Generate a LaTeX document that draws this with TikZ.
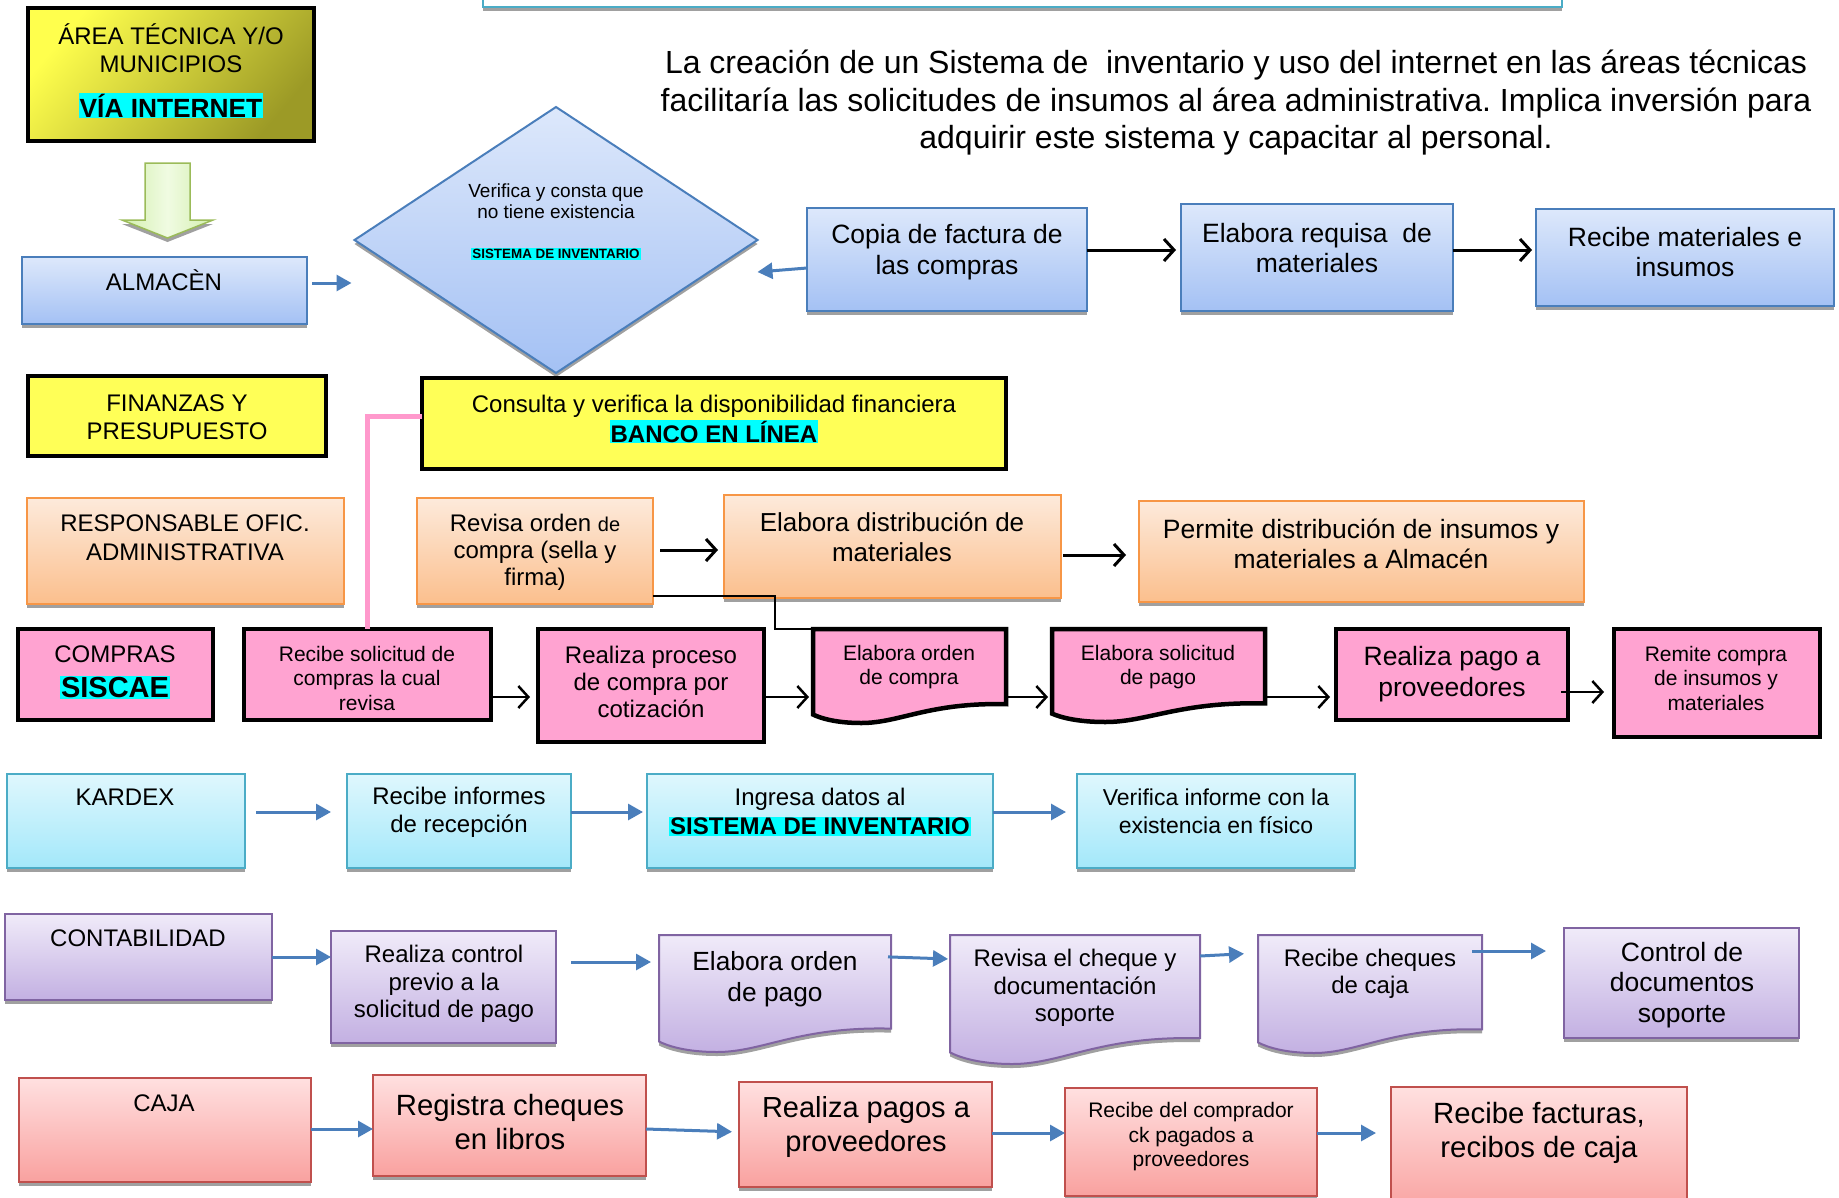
\documentclass[tikz,border=0pt]{standalone}
\usepackage{fontspec}
\setmainfont{Liberation Sans}
\usetikzlibrary{arrows.meta,shapes.geometric,shadows}
\frenchspacing

\definecolor{bluetop}{HTML}{DDE8FB}
\definecolor{bluebot}{HTML}{A4C1F4}
\definecolor{bluebd}{HTML}{4A7EBB}
\definecolor{orgtop}{HTML}{FDEADB}
\definecolor{orgbot}{HTML}{FBBF8D}
\definecolor{orgbd}{HTML}{F79646}
\definecolor{cyntop}{HTML}{DFF7FD}
\definecolor{cynbot}{HTML}{A3E8FA}
\definecolor{cynbd}{HTML}{4BACC6}
\definecolor{purtop}{HTML}{F0EBF9}
\definecolor{purbot}{HTML}{C3B0E2}
\definecolor{purbd}{HTML}{8064A2}
\definecolor{redtop}{HTML}{FFE0E0}
\definecolor{redbot}{HTML}{F9A19F}
\definecolor{redbd}{HTML}{C0504D}
\definecolor{pinkfill}{HTML}{FFA3D1}
\definecolor{pinkline}{HTML}{FF99CC}
\definecolor{yelfill}{HTML}{FFFF57}
\definecolor{atyel}{HTML}{FFFF4D}
\definecolor{atolive}{HTML}{9C9A26}
\definecolor{hicyan}{HTML}{00FFFF}
\definecolor{arrblue}{HTML}{4A7EBB}
\definecolor{grnside}{HTML}{D3EFAE}
\definecolor{grnmid}{HTML}{F0FBE2}
\definecolor{grnbd}{HTML}{9BBB59}
\definecolor{shadowgray}{HTML}{A0A0A0}

\newcommand{\cyanmark}[1]{{\setlength{\fboxsep}{1pt}\colorbox{hicyan}{#1}}}

\tikzset{
  box/.style={rectangle, inner sep=0pt, outer sep=0pt},
  shadowed/.style={drop shadow={shadow xshift=0pt, shadow yshift=-4pt, fill=shadowgray, opacity=1}},
  bluebox/.style={box, shadowed, draw=bluebd, line width=2pt, top color=bluetop, bottom color=bluebot},
  orangebox/.style={box, shadowed, draw=orgbd, line width=2pt, top color=orgtop, bottom color=orgbot},
  cyanbox/.style={box, shadowed, draw=cynbd, line width=2pt, top color=cyntop, bottom color=cynbot},
  purplebox/.style={box, shadowed, draw=purbd, line width=2pt, top color=purtop, bottom color=purbot},
  redbox/.style={box, shadowed, draw=redbd, line width=2pt, top color=redtop, bottom color=redbot},
  blackbox/.style={box, draw=black, line width=4.5pt},
  pinkbox/.style={blackbox, fill=pinkfill},
  yellowbox/.style={blackbox, fill=yelfill},
  pinkdoc/.style={draw=black, line width=4.5pt, fill=pinkfill},
  purpledoc/.style={shadowed, draw=purbd, line width=2pt, top color=purtop, bottom color=purbot},
  tx/.style={align=center, inner sep=0pt},
  txtS/.style={tx, font=\fontsize{21}{24.5}\selectfont},
  txtM/.style={tx, font=\fontsize{24}{27.5}\selectfont},
  txtL/.style={tx, font=\fontsize{26.5}{30.5}\selectfont},
  txtXL/.style={tx, font=\fontsize{29.3}{33.5}\selectfont},
  bluearr/.style={draw=arrblue, line width=3pt, -{Triangle[length=15pt,width=16pt]}},
  blackarr/.style={draw=black, line width=3pt, -{Straight Barb[length=10pt,width=22pt]}},
  pinkarr/.style={draw=black, line width=2.5pt, -{Straight Barb[length=10pt,width=22pt]}},
  pinkconn/.style={draw=pinkline, line width=5pt},
  thinconn/.style={draw=black, line width=2pt},
}

\begin{document}
\begin{tikzpicture}[x=1pt, y=-1pt]
\useasboundingbox (0,0) rectangle (1839,1197);
\clip (0,0) rectangle (1839,1197);

% banner at the top edge
\draw[draw=cynbd, line width=2pt, fill=white, shadowed] (483,-20) rectangle (1562,7);

%AREA TECNICA
\node[blackbox, shading=axis, top color=atyel, bottom color=atolive, shading angle=50, minimum width=286, minimum height=133] (area) at (171,74.5) {};
\draw[draw=grnbd, line width=1.5pt, left color=grnside, right color=grnside, middle color=grnmid, shadowed] (145,163) -- (190,163) -- (190,220) -- (213,220) -- (167.5,238) -- (122,220) -- (145,220) -- cycle;

%ALMACEN
\node[bluebox, minimum width=285, minimum height=67] (alm) at (164.5,290.5) {};
\node[bluebox, diamond, minimum width=403, minimum height=266] (dia) at (556,240) {};
\node[bluebox, minimum width=280, minimum height=103] (copia) at (947,259.5) {};
\node[bluebox, minimum width=272, minimum height=107] (req) at (1317,257.5) {};
\node[bluebox, minimum width=298, minimum height=97] (recmat) at (1685,257.5) {};

%FINANZAS
\node[yellowbox, minimum width=298, minimum height=80] (fin) at (177,416) {};
\node[yellowbox, minimum width=584, minimum height=91] (banco) at (714,423.5) {};

%RESPONSABLE
\node[orangebox, minimum width=317, minimum height=106] (resp) at (185.5,551) {};
\node[orangebox, minimum width=236, minimum height=106] (revord) at (535,551) {};
\node[orangebox, minimum width=337, minimum height=103] (distr) at (892.5,546.5) {};
\node[orangebox, minimum width=445, minimum height=101] (permite) at (1361.5,551.5) {};

%COMPRAS
\node[pinkbox, minimum width=195, minimum height=91] (compras) at (115.5,674.5) {};
\node[pinkbox, minimum width=247, minimum height=91] (recsol) at (367.5,674.5) {};
\node[pinkbox, minimum width=226, minimum height=113] (cotiz) at (651,685.5) {};
\draw[pinkdoc] (813,629) -- (1006,629) -- (1006,704.2) .. controls (928.8,702.3) and (899.9,723) .. (861.3,723) .. controls (836.2,723) and (820.7,718.3) .. (813,714.5) -- cycle;
\node[box, minimum width=193, minimum height=75] (ordcomp) at (909.5,666.5) {};
\draw[pinkdoc] (1052,629) -- (1265,629) -- (1265,703.4) .. controls (1179.8,701.5) and (1147.9,722) .. (1105.3,722) .. controls (1077.6,722) and (1060.5,717.4) .. (1052,713.6) -- cycle;
\node[box, minimum width=213, minimum height=74] (solpago) at (1158.5,666) {};
\node[pinkbox, minimum width=232, minimum height=91] (pagoprov) at (1452,674.5) {};
\node[pinkbox, minimum width=206, minimum height=108] (remite) at (1717,683) {};

%KARDEX
\node[cyanbox, minimum width=238, minimum height=94] (kardex) at (126,821) {};
\node[cyanbox, minimum width=224, minimum height=94] (recinf) at (459,821) {};
\node[cyanbox, minimum width=346, minimum height=94] (ingresa) at (820,821) {};
\node[cyanbox, minimum width=278, minimum height=94] (verif) at (1216,821) {};

%CONTABILIDAD
\node[purplebox, minimum width=267, minimum height=86] (conta) at (138.5,957) {};
\node[purplebox, minimum width=225, minimum height=112] (control) at (443.5,987) {};
\draw[purpledoc] (659,935) -- (891,935) -- (891,1028.6) .. controls (798.2,1026.3) and (763.4,1052) .. (717,1052) .. controls (686.8,1052) and (668.3,1046.2) .. (659,1041.5) -- cycle;
\node[box, minimum width=232, minimum height=94] (ordpago) at (775,982) {};
\draw[purpledoc] (950,935) -- (1200,935) -- (1200,1038.2) .. controls (1100,1035.6) and (1062.5,1064) .. (1012.5,1064) .. controls (980,1064) and (960,1057.6) .. (950,1052.4) -- cycle;
\node[box, minimum width=250, minimum height=103] (revcheq) at (1075,986.5) {};
\draw[purpledoc] (1258,935) -- (1482,935) -- (1482,1029.4) .. controls (1392.4,1027) and (1358.8,1053) .. (1314,1053) .. controls (1284.9,1053) and (1267,1047.1) .. (1258,1042.4) -- cycle;
\node[box, minimum width=224, minimum height=94] (reccheq) at (1370,982) {};
\node[purplebox, minimum width=235, minimum height=110] (ctrldoc) at (1681.5,983) {};

%CAJA
\node[redbox, minimum width=292, minimum height=104] (caja) at (165,1130) {};
\node[redbox, minimum width=273, minimum height=101] (regch) at (509.5,1125.5) {};
\node[redbox, minimum width=253, minimum height=105] (pagos) at (865.5,1134.5) {};
\node[redbox, minimum width=252, minimum height=108] (recomp) at (1191,1142) {};
\node[redbox, minimum width=296, minimum height=128] (recfact) at (1539,1151) {};

%CONNECTORS
\draw[bluearr, shorten <=5pt, shorten >=3pt] (alm.east |- 0,283) -- (dia.west |- 0,283);
\draw[bluearr] (copia.west |- 0,268) -- (dia.east |- 0,272);
\draw[blackarr, shorten >=5pt] (copia.east |- 0,250) -- (req.west |- 0,250);
\draw[blackarr, shorten >=4pt] (req.east |- 0,250) -- (recmat.west |- 0,250);

\draw[pinkconn] ([yshift=7.5pt]banco.west) -| (recsol.north);
\draw[blackarr, shorten <=7pt, shorten >=6pt] (revord.east |- 0,550) -- (distr.west |- 0,550);
\draw[blackarr, shorten <=2pt, shorten >=13pt] (distr.east |- 0,555) -- (permite.west |- 0,555);
\draw[thinconn] ([yshift=8pt]revord.south east) -- ++(122,0) |- (ordcomp.north west);

\draw[pinkarr, shorten >=8pt] (recsol.east |- 0,697) -- (cotiz.west |- 0,697);
\draw[pinkarr, shorten >=4pt] (cotiz.east |- 0,697) -- (ordcomp.west |- 0,697);
\draw[pinkarr, shorten >=4pt] (ordcomp.east |- 0,697) -- (solpago.west |- 0,697);
\draw[pinkarr, shorten >=6pt] (solpago.east |- 0,697) -- (pagoprov.west |- 0,697);
\draw[pinkarr, shorten <=-7pt, shorten >=10pt] (pagoprov.east |- 0,692) -- (remite.west |- 0,692);

\draw[bluearr, shorten <=11pt, shorten >=16pt] (kardex.east |- 0,812) -- (recinf.west |- 0,812);
\draw[bluearr, shorten >=4pt] (recinf.east |- 0,812) -- (ingresa.west |- 0,812);
\draw[bluearr, shorten >=11pt] (ingresa.east |- 0,812) -- (verif.west |- 0,812);

\draw[bluearr] (conta.east |- 0,957) -- (control.west |- 0,957);
\draw[bluearr, shorten <=15pt, shorten >=8pt] (control.east |- 0,962) -- (ordpago.west |- 0,962);
\draw[bluearr, shorten <=-3pt, shorten >=2pt] (ordpago.east |- 0,957) -- (revcheq.west |- 0,959);
\draw[bluearr, shorten >=14pt] (revcheq.east |- 0,956) -- (reccheq.west |- 0,953);
\draw[bluearr, shorten <=-10pt, shorten >=18pt] (reccheq.east |- 0,951) -- (ctrldoc.west |- 0,951);

\draw[bluearr] (caja.east |- 0,1129) -- (regch.west |- 0,1129);
\draw[bluearr, shorten >=7pt] (regch.east |- 0,1129) -- (pagos.west |- 0,1132);
\draw[bluearr] (pagos.east |- 0,1133) -- (recomp.west |- 0,1133);
\draw[bluearr, shorten >=15pt] (recomp.east |- 0,1133) -- (recfact.west |- 0,1133);

%TEXTS
\node[tx, font=\fontsize{32}{37.5}\selectfont] (title-t) at (1236,103) {La creación de un Sistema de~ inventario y uso del internet en las áreas técnicas\\facilitaría las solicitudes de insumos al área administrativa. Implica inversión para\\adquirir este sistema y capacitar al personal.};
\node[txtM] (area-t) at (171,48) {ÁREA TÉCNICA Y/O\\MUNICIPIOS};
\node[tx, font=\fontsize{26.3}{30}\selectfont\bfseries] (via-t) at (171,105.5) {\cyanmark{VÍA INTERNET}};
\node[txtM] (alm-t) at (164,280) {ALMACÈN};
\node[tx, font=\fontsize{19}{21}\selectfont] (dia-t) at (556,201) {Verifica y consta que\\no tiene existencia};
\node[tx, font=\fontsize{13.4}{15}\selectfont\bfseries] (dia-s) at (556,254) {\cyanmark{SISTEMA DE INVENTARIO}};
\node[txtL] (copia-t) at (947,252) {Copia de factura de\\las compras};
\node[txtL] (req-t) at (1317,248) {Elabora requisa~ de\\materiales};
\node[txtL] (recmat-t) at (1685,252) {Recibe materiales e\\insumos};
\node[txtM] (fin-t) at (177,417) {FINANZAS Y\\PRESUPUESTO};
\node[tx, font=\fontsize{24}{30}\selectfont] (banco-t) at (714,419) {Consulta y verifica la disponibilidad financiera\\\cyanmark{\bfseries BANCO EN LÍNEA}};
\node[tx, font=\fontsize{24}{29}\selectfont] (resp-t) at (185,538) {RESPONSABLE OFIC.\\ADMINISTRATIVA};
\node[tx, font=\fontsize{24}{27}\selectfont] (revord-t) at (535,552) {Revisa orden {\fontsize{20}{27}\selectfont de}\\compra (sella y\\firma)};
\node[tx, font=\fontsize{26}{30}\selectfont] (distr-t) at (892,537) {Elabora distribución de\\materiales};
\node[txtL] (permite-t) at (1361,544) {Permite distribución de insumos y\\materiales a Almacén};
\node[tx, font=\fontsize{24}{27.5}\selectfont] (compras-t) at (115,672) {COMPRAS\\[7.5pt]\cyanmark{\fontsize{29}{33}\selectfont\bfseries SISCAE}};
\node[txtS] (recsol-t) at (367,678) {Recibe solicitud de\\compras la cual\\revisa};
\node[tx, font=\fontsize{24}{27}\selectfont] (cotiz-t) at (651,682) {Realiza proceso\\de compra por\\cotización};
\node[txtS] (ordcomp-t) at (909,667) {Elabora orden\\de compra};
\node[txtS] (solpago-t) at (1158,667) {Elabora solicitud\\de pago};
\node[txtL] (pagoprov-t) at (1452,674) {Realiza pago a\\proveedores};
\node[txtS] (remite-t) at (1716,678) {Remite compra\\de insumos y\\materiales};
\node[txtM] (kardex-t) at (125,797) {KARDEX};
\node[tx, font=\fontsize{24}{28}\selectfont] (recinf-t) at (459,812) {Recibe informes\\de recepción};
\node[tx, font=\fontsize{24}{29}\selectfont] (ingresa-t) at (820,812) {Ingresa datos al\\\cyanmark{\bfseries SISTEMA DE INVENTARIO}};
\node[tx, font=\fontsize{23}{28}\selectfont] (verif-t) at (1216,811) {Verifica informe con la\\existencia en físico};
\node[txtM] (conta-t) at (138,938) {CONTABILIDAD};
\node[txtM] (control-t) at (444,984) {Realiza control\\previo a la\\solicitud de pago};
\node[tx, font=\fontsize{26.3}{31}\selectfont] (ordpago-t) at (775,979) {Elabora orden\\de pago};
\node[txtM] (revcheq-t) at (1075,988) {Revisa el cheque y\\documentación\\soporte};
\node[txtM] (reccheq-t) at (1370,974) {Recibe cheques\\de caja};
\node[txtL] (ctrldoc-t) at (1682,985) {Control de\\documentos\\soporte};
\node[txtM] (caja-t) at (164,1103) {CAJA};
\node[txtXL] (regch-t) at (510,1122) {Registra cheques\\en libros};
\node[tx, font=\fontsize{29}{34}\selectfont] (pagos-t) at (866,1127) {Realiza pagos a\\proveedores};
\node[txtS] (recomp-t) at (1191,1137) {Recibe del comprador\\ck pagados a\\proveedores};
\node[txtXL] (recfact-t) at (1539,1133) {Recibe facturas,\\recibos de caja};

\end{tikzpicture}
\end{document}
